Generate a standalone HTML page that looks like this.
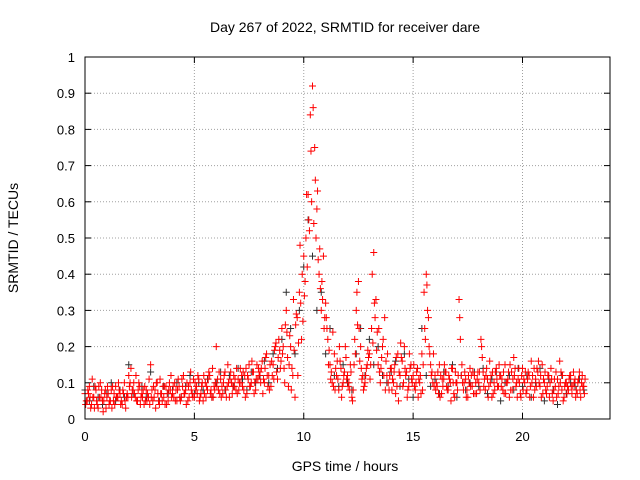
<!DOCTYPE html>
<html><head><meta charset="utf-8">
<style>
html,body{margin:0;padding:0;background:#fff;}
svg{display:block;font-family:"Liberation Sans",Arial,sans-serif;}
</style></head>
<body>
<svg id="chart" width="640" height="480" viewBox="0 0 640 480">
<rect x="0" y="0" width="640" height="480" fill="#fff"/>
<text x="345" y="32" font-size="14" text-anchor="middle">Day 267 of 2022, SRMTID for receiver dare</text>
<text x="0" y="0" font-size="14" text-anchor="middle" transform="translate(18,238) rotate(-90)">SRMTID / TECUs</text>
<text x="345" y="471" font-size="14" text-anchor="middle">GPS time / hours</text>
<g id="grid"></g>
<g id="ticks"></g>
<g id="marks"></g>
<rect x="85" y="57" width="525" height="362" fill="none" stroke="#000" stroke-width="1"/>
</svg>
<script>
const xTicks=[0,5,10,15,20];
const yTicks=[0,0.1,0.2,0.3,0.4,0.5,0.6,0.7,0.8,0.9,1];
const yTickLabels=["0","0.1","0.2","0.3","0.4","0.5","0.6","0.7","0.8","0.9","1"];
const redStep=0.1;
const blackStep=0.2;
const redA=[.07,.05,.09,.04,.06,.08,.03,.10,.05,.07,
.06,.04,.08,.05,.09,.06,.07,.04,.10,.06,
.12,.14,.08,.06,.05,.09,.07,.04,.08,.06,
.15,.05,.08,.10,.04,.07,.06,.09,.05,.08,
.07,.10,.05,.09,.06,.12,.08,.05,.10,.07,
.06,.09,.11,.07,.05,.10,.08,.12,.06,.09,
.20,.08,.11,.07,.13,.09,.06,.10,.12,.08,
.11,.14,.09,.12,.07,.15,.10,.13,.08,.11,
.13,.16,.10,.18,.12,.09,.15,.20,.11,.19,
.25,.14,.30,.09,.20,.12,.06,.28,.35,.22,
.45,.50,.62,.84,.92,.75,.58,.40,.30,.45,
.32,.22,.15,.10,.18,.12,.08,.14,.10,.20,
.12,.08,.06,.15,.30,.38,.20,.12,.10,.15,
.18,.25,.46,.33,.15,.10,.20,.28,.12,.08,
.14,.10,.07,.18,.12,.16,.20,.13,.09,.15,
.12,.08,.14,.10,.18,.35,.40,.28,.15,.10,
.12,.09,.15,.07,.11,.13,.08,.10,.14,.06,
.10,.33,.12,.08,.11,.06,.14,.09,.12,.07,
.10,.22,.13,.08,.11,.16,.06,.10,.14,.09,
.12,.08,.15,.10,.06,.13,.17,.09,.11,.07,
.14,.10,.08,.12,.16,.06,.11,.13,.09,.15,
.10,.07,.12,.14,.05,.09,.11,.16,.08,.06,
.10,.08,.12,.09,.11,.07,.13,.10,.09];
const redB=[.04,.08,.06,.11,.03,.05,.09,.06,.02,.08,
.09,.05,.03,.07,.06,.10,.04,.08,.05,.07,
.09,.06,.10,.12,.08,.04,.06,.09,.05,.11,
.06,.09,.03,.07,.11,.05,.09,.04,.08,.12,
.09,.05,.08,.06,.11,.07,.04,.09,.13,.06,
.10,.07,.05,.09,.12,.06,.11,.07,.14,.08,
.09,.13,.06,.10,.08,.15,.11,.07,.09,.14,
.08,.10,.13,.06,.12,.09,.16,.07,.11,.14,
.10,.07,.14,.12,.08,.16,.11,.21,.17,.14,
.18,.10,.24,.15,.08,.33,.26,.12,.48,.40,
.34,.62,.55,.74,.86,.66,.63,.47,.38,.25,
.28,.15,.11,.24,.08,.16,.20,.06,.12,.17,
.09,.15,.05,.22,.35,.25,.14,.08,.12,.19,
.11,.40,.32,.19,.25,.14,.22,.08,.18,.12,
.08,.13,.17,.05,.21,.09,.14,.06,.18,.11,
.15,.10,.06,.12,.08,.25,.37,.20,.12,.18,
.08,.13,.06,.11,.15,.09,.12,.05,.10,.13,
.08,.28,.15,.10,.06,.12,.09,.13,.07,.11,
.13,.20,.09,.12,.06,.10,.13,.08,.11,.15,
.09,.13,.07,.11,.15,.08,.12,.10,.14,.06,
.08,.13,.11,.06,.10,.14,.09,.16,.12,.07,
.13,.09,.06,.11,.08,.13,.07,.10,.12,.09,
.07,.11,.09,.13,.06,.10,.08,.12,.07];
const redC=[.05,.07,.03,.06,.09,.04,.06,.08,.05,.03,
.07,.05,.09,.04,.06,.08,.05,.07,.03,.06,
.10,.08,.07,.05,.10,.06,.08,.05,.07,.04,
.08,.06,.10,.05,.07,.09,.04,.07,.10,.06,
.06,.08,.11,.05,.09,.07,.10,.06,.08,.11,
.08,.12,.06,.10,.07,.09,.13,.08,.06,.10,
.11,.07,.09,.12,.06,.10,.13,.09,.11,.07,
.10,.12,.08,.14,.11,.09,.13,.10,.15,.12,
.14,.11,.17,.09,.15,.12,.19,.13,.22,.16,
.20,.26,.17,.23,.14,.19,.29,.21,.32,.27,
.38,.42,.52,.60,.54,.50,.44,.36,.33,.28,
.25,.19,.13,.09,.14,.11,.16,.09,.13,.11,
.10,.13,.08,.18,.26,.16,.11,.09,.14,.17,
.15,.21,.28,.24,.13,.17,.12,.16,.10,.14,
.11,.15,.09,.13,.17,.10,.12,.08,.14,.10,
.09,.13,.11,.07,.15,.22,.30,.18,.13,.09,
.10,.07,.12,.09,.13,.08,.11,.14,.07,.10,
.12,.22,.10,.13,.08,.10,.12,.07,.10,.13,
.08,.17,.11,.14,.09,.12,.07,.13,.09,.12,
.11,.07,.10,.13,.08,.11,.14,.06,.10,.12,
.11,.07,.13,.09,.12,.08,.14,.10,.06,.11,
.08,.12,.10,.07,.11,.06,.09,.13,.05,.10,
.09,.12,.07,.10,.08,.11,.06,.09,.11];
const black=[.08,.05,.09,.06,.04,.07,.10,.05,.08,.06,
.15,.07,.05,.09,.06,.13,.08,.05,.09,.07,
.08,.10,.06,.09,.12,.07,.10,.08,.11,.06,
.10,.13,.08,.12,.09,.14,.11,.08,.13,.10,
.12,.16,.10,.18,.14,.22,.35,.25,.18,.30,
.42,.55,.45,.30,.35,.18,.25,.12,.09,.15,
.10,.08,.18,.25,.12,.22,.15,.20,.12,.10,
.13,.16,.09,.18,.11,.06,.14,.25,.12,.09,
.11,.07,.13,.09,.15,.06,.12,.08,.10,.13,
.09,.14,.07,.11,.13,.05,.10,.12,.08,.14,
.09,.12,.06,.10,.14,.05,.11,.08,.04,.12,
.07,.10,.09,.11,.08];

const X0=85,X1=610,Y0=419,Y1=57,XMAX=24;
const xs=v=>X0+(X1-X0)*v/XMAX;
const ys=v=>Y0-(Y0-Y1)*v;
const NS="http://www.w3.org/2000/svg";
const grid=document.getElementById('grid'),ticks=document.getElementById('ticks'),marks=document.getElementById('marks');
function mk(tag,attrs,parent){const e=document.createElementNS(NS,tag);for(const k in attrs)e.setAttribute(k,attrs[k]);parent.appendChild(e);return e;}
yTicks.forEach((v,i)=>{
  const y=ys(v);
  if(i>0&&i<yTicks.length-1){const g=mk('line',{x1:X0,x2:X1,y1:y,y2:y,stroke:'#a0a0a0','stroke-dasharray':'1,2','stroke-width':1},grid);
  
  }
  mk('line',{x1:X0,x2:X0+6,y1:y,y2:y,stroke:'#000'},ticks);
  mk('line',{x1:X1,x2:X1-6,y1:y,y2:y,stroke:'#000'},ticks);
  const t=mk('text',{x:X0-10,y:y+5,'font-size':13,'text-anchor':'end'},ticks);
  t.textContent=yTickLabels[i];
  
  
});
xTicks.forEach(v=>{
  const x=xs(v);
  if(v>0){const g=mk('line',{x1:x,x2:x,y1:Y0,y2:Y1,stroke:'#a0a0a0','stroke-dasharray':'1,2','stroke-width':1},grid);
  
  }
  mk('line',{x1:x,x2:x,y1:Y0,y2:Y0-6,stroke:'#000'},ticks);
  mk('line',{x1:x,x2:x,y1:Y1,y2:Y1+6,stroke:'#000'},ticks);
  const t=mk('text',{x:x,y:Y0+22,'font-size':13,'text-anchor':'middle'},ticks);
  t.textContent=String(v);
  
  
});
function plus(arr,step,offset,color,name){
  let d='';
  arr.forEach((v,i)=>{const x=xs(offset+i*step),y=ys(v);d+=`M${x-3.5},${y}h7M${x},${y-3.5}v7`;});
  const p=mk('path',{d:d,stroke:color,'stroke-width':1,fill:'none'},marks);
  
  
}
plus(black,blackStep,0,'#303030','series-black-points');
plus(redA,redStep,0,'#ff0000','series-red-points-a');
plus(redB,redStep,0.03,'#ff0000','series-red-points-b');
plus(redC,redStep,0.06,'#ff0000','series-red-points-c');
</script>
</body></html>
